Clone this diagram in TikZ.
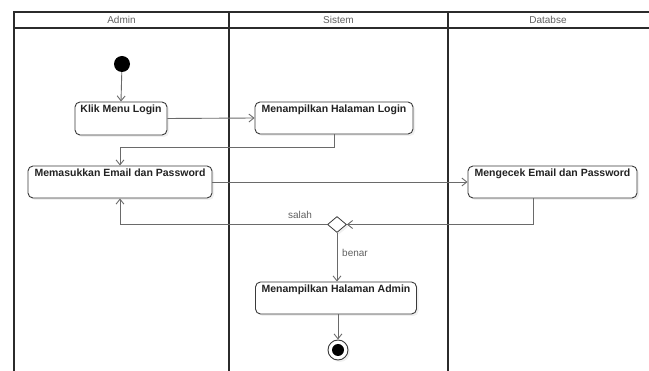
\documentclass[tikz,border=0pt]{standalone}
\usepackage{fontspec}
\setmainfont{Liberation Sans}
\usetikzlibrary{arrows.meta,shapes.geometric,shadows,calc}
\definecolor{lanec}{HTML}{2B2B2B}
\definecolor{boxc}{HTML}{3A3A3A}
\definecolor{linec}{HTML}{6A6A6A}
\definecolor{txtc}{HTML}{222222}
\definecolor{lbl}{HTML}{606060}
\tikzset{
  lane/.style={draw=lanec,line width=1.3pt},
  lanehead/.style={font=\fontsize{10}{12}\selectfont,text=lbl},
  actbox/.style={draw=boxc,line width=0.9pt,rounded corners=5pt,fill=white,
    drop shadow={shadow xshift=2pt,shadow yshift=-2pt,opacity=0.12}},
  acttext/.style={font=\fontsize{10.5}{12}\selectfont\bfseries,text=txtc,inner sep=1pt},
  conn/.style={draw=linec,line width=0.9pt,-{Straight Barb[length=5pt,width=8pt]}},
  guard/.style={font=\fontsize{10}{12}\selectfont,text=lbl},
  startdot/.style={circle,fill=black,minimum size=16pt,inner sep=0pt},
  decis/.style={diamond,draw=boxc,line width=0.8pt,fill=white,minimum width=19pt,minimum height=16pt,inner sep=0pt,
    drop shadow={shadow xshift=2pt,shadow yshift=-2pt,opacity=0.12}},
}
\begin{document}
\begin{tikzpicture}[x=1pt,y=-1pt]
\useasboundingbox (0,0) rectangle (649,371);
% swimlanes
\draw[lane] (649,12) -- (14,12) -- (14,371);
\draw[lane] (14,28) -- (649,28);
\draw[lane] (229,12) -- (229,371);
\draw[lane] (448,12) -- (448,371);
\node[lanehead] (hadmin) at (121.5,20) {Admin};
\node[lanehead] (hsistem) at (338.5,20) {Sistem};
\node[lanehead] (hdb) at (548,20) {Databse};
% start
\node[startdot] (start) at (122,64) {};
% activities
\node[actbox,minimum width=92pt,minimum height=33pt,
  label={[acttext,anchor=north,yshift=-2pt]north:Klik Menu Login}] (klik) at (121,118.5) {};
\node[actbox,minimum width=158pt,minimum height=32pt,
  label={[acttext,anchor=north,yshift=-2pt]north:Menampilkan Halaman Login}] (login) at (334,118) {};
\node[actbox,minimum width=184pt,minimum height=32pt,
  label={[acttext,anchor=north,yshift=-2pt]north:Memasukkan Email dan Password}] (mem) at (120,182) {};
\node[actbox,minimum width=169pt,minimum height=32pt,
  label={[acttext,anchor=north,yshift=-2pt]north:Mengecek Email dan Password}] (cek) at (552.5,182) {};
\node[decis] (dec) at (337,224.5) {};
\node[actbox,minimum width=161pt,minimum height=32pt,
  label={[acttext,anchor=north,yshift=-2pt]north:Menampilkan Halaman Admin}] (admin) at (336,298) {};
% end
\node[circle,draw=boxc,line width=0.9pt,fill=white,minimum size=20pt,inner sep=0pt,
  drop shadow={shadow xshift=2pt,shadow yshift=-2pt,opacity=0.12}] (end) at (338,350) {};
\node[circle,fill=black,minimum size=12pt,inner sep=0pt] (endin) at (end.center) {};
% connectors
\draw[conn] (start) -- (klik.north);
\draw[conn] (klik.east) -- (login.west);
\draw[conn] (login.south) -- ++(0,13) -| (mem.north);
\draw[conn] (mem.east) -- (cek.west);
\draw[conn] ([xshift=-19.5pt]cek.south) |- (dec.east);
\draw[conn] (dec.west) -| (mem.south);
\draw[conn] (dec.south) -- (dec.south |- admin.north);
\draw[conn] (admin.south -| end.north) -- (end.north);
% guards
\node[guard] (gsalah) at (300,215) {salah};
\node[guard] (gbenar) at (355,253) {benar};
\end{tikzpicture}
\end{document}
